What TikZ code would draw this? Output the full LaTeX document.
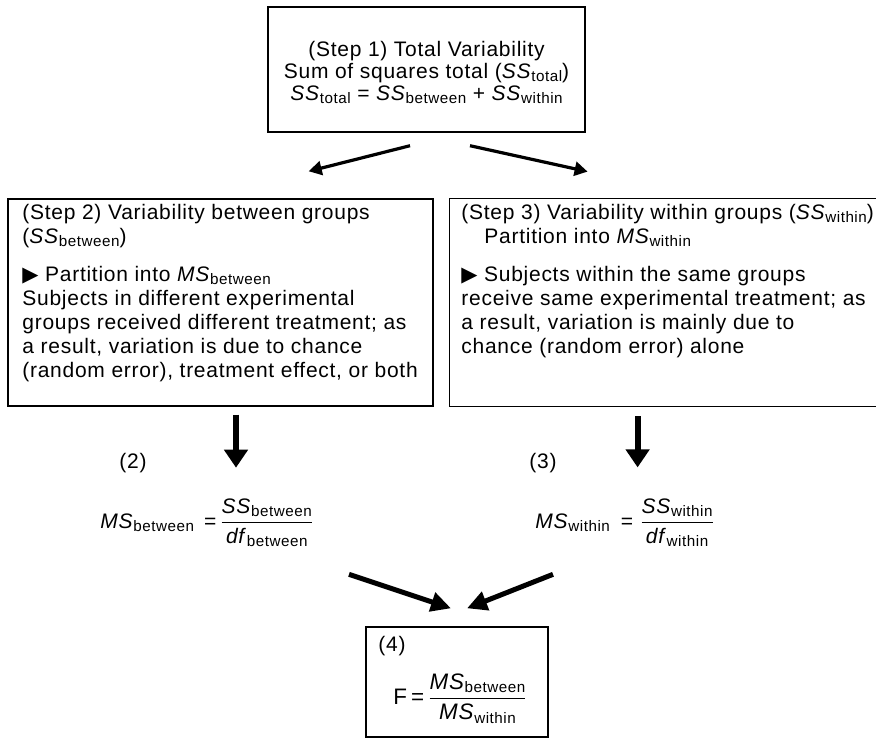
\documentclass[tikz,border=0pt]{standalone}
\usepackage{amsmath}
\usepackage{fontspec}
\setmainfont[LetterSpace=3.5]{Liberation Sans}
\newfontfamily\symfont{DejaVu Sans}
\usetikzlibrary{arrows.meta,calc}
\newcommand{\vsub}[2]{\textit{#1}\raisebox{-1.7pt}{\fontsize{7.6}{8}\selectfont #2}}
\newcommand{\tri}{{\symfont\fontsize{10.5}{10.5}\selectfont ▶}}
\newcommand{\ffrac}[2]{$\genfrac{}{}{0.8pt}{0}{\mbox{#1}}{\mbox{#2}}$}
\begin{document}
\begin{tikzpicture}[x=0.5pt,y=-0.5pt,
  box/.style={draw, line width=0.7pt, inner sep=0pt},
  txt/.style={inner sep=0pt, align=left, font=\fontsize{10.5}{12}\selectfont},
  toparrow/.style={line width=1.6pt, -{Triangle[length=6.5pt,width=7pt]}},
  downarrow/.style={line width=3pt, -{Triangle[length=9pt,width=11.5pt]}},
  botarrow/.style={line width=2.5pt, -{Triangle[length=10pt,width=9.5pt]}}]
\useasboundingbox (0,0) rectangle (876,745);

% boxes
\node[box, minimum width=158.5pt, minimum height=62.5pt] (step1) at (426.5,69.5) {};
\node[box, minimum width=212.5pt, minimum height=103.5pt] (step2) at (220.5,302.5) {};
\node[inner sep=0pt, minimum width=213pt, minimum height=103.5pt] (step3) at (663,302.5) {};
\draw[line width=0.7pt] (step3.north east) -- (step3.north west) -- (step3.south west) -- (step3.south east);
\node[box, minimum width=91pt, minimum height=55pt] (step4) at (457,682) {};

% texts (base anchor = baseline of the last line)
\node[txt, align=center, font=\fontsize{10.5}{11}\selectfont, anchor=base] (t1) at (426.5,100)
  {(Step 1) Total Variability\\
   Sum of squares total (\vsub{SS}{total})\\
   \vsub{SS}{total} = \vsub{SS}{between} + \vsub{SS}{within}};

\node[txt, anchor=base west] (t2) at (22,377)
  {(Step 2) Variability between groups\\
   (\vsub{SS}{between})\\[7pt]
   \tri\ Partition into \vsub{MS}{between}\\
   Subjects in different experimental\\
   groups received different treatment; as\\
   a result, variation is due to chance\\
   (random error), treatment effect, or both};

\node[txt, anchor=base west] (t3) at (461,353)
  {(Step 3) Variability within groups (\vsub{SS}{within})\\
   \hspace*{11.5pt}Partition into \vsub{MS}{within}\\[7pt]
   \tri\ Subjects within the same groups\\
   receive same experimental treatment; as\\
   a result, variation is mainly due to\\
   chance (random error) alone};

\node[txt, anchor=base] (l2) at (133,468) {(2)};
\node[txt, anchor=base] (l3) at (543,468) {(3)};

\node[txt, anchor=base west] (msb) at (100,528)
  {\vsub{MS}{between}\hspace{5pt}=\hspace{1.5pt}\ffrac{\vsub{SS}{between}}{\vsub{df}{between}}};
\node[txt, anchor=base west] (msw) at (535,528)
  {\vsub{MS}{within}\hspace{5.5pt}=\hspace{3pt}\ffrac{\vsub{SS}{within}}{\vsub{df}{within}}};

\node[txt, anchor=base west] (l4) at (378,651) {(4)};
\node[txt, anchor=base west, font=\fontsize{11.2}{12}\selectfont] (fr) at (393,704)
  {F\hspace{2pt}=\hspace{1.5pt}\ffrac{\vsub{MS}{between}}{\vsub{MS}{within}}};

% arrows
\draw[toparrow] ($(step1.south)+(-16.5,13)$) -- ($(step2.north east)+(-125,-27)$);
\draw[toparrow] ($(step1.south)+(43.5,13)$) -- ($(step3.north west)+(138,-27)$);
\draw[downarrow] ($(step2.south)+(15.5,8)$) -- ($(step2.south)+(15.5,61)$);
\draw[downarrow] ($(step3.south west)+(188,10)$) -- ($(step3.south west)+(188,61)$);
\draw[botarrow] ($(step4.north)+(-108,-52)$) -- ($(step4.north)+(-6,-18)$);
\draw[botarrow] ($(step4.north)+(96,-52)$) -- ($(step4.north)+(10,-18)$);
\end{tikzpicture}
\end{document}
